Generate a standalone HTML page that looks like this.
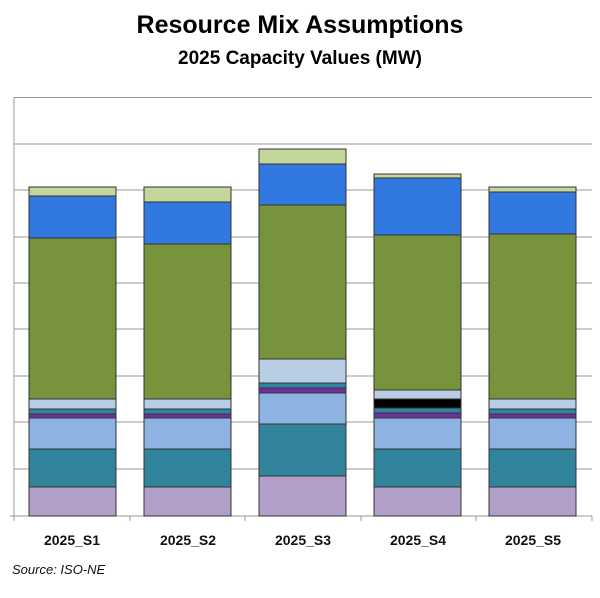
<!DOCTYPE html><html><head><style>body{margin:0;background:#fff}svg{display:block}</style></head><body>
<svg width="600" height="598" xmlns="http://www.w3.org/2000/svg" font-family="Liberation Sans, sans-serif">
<rect width="600" height="598" fill="#fff"/>
<text x="300" y="33" text-anchor="middle" font-size="25" font-weight="bold" transform="scale(1,1)">Resource Mix Assumptions</text>
<text x="300" y="64" text-anchor="middle" font-size="19" font-weight="bold">2025 Capacity Values (MW)</text>
<g stroke="#999" stroke-width="1">
<line x1="14" y1="97.5" x2="592" y2="97.5"/><line x1="14" y1="144" x2="592" y2="144"/><line x1="14" y1="190" x2="592" y2="190"/><line x1="14" y1="237" x2="592" y2="237"/><line x1="14" y1="283" x2="592" y2="283"/><line x1="14" y1="329" x2="592" y2="329"/><line x1="14" y1="376" x2="592" y2="376"/><line x1="14" y1="422" x2="592" y2="422"/><line x1="14" y1="469" x2="592" y2="469"/>
<line x1="14" y1="97" x2="14" y2="521"/><line x1="10" y1="516" x2="592" y2="516"/>
<line x1="130" y1="516" x2="130" y2="521"/><line x1="245" y1="516" x2="245" y2="521"/><line x1="361" y1="516" x2="361" y2="521"/><line x1="476" y1="516" x2="476" y2="521"/><line x1="592" y1="516" x2="592" y2="521"/>
</g>
<g stroke="#333" stroke-width="1">
<!-- S1 -->
<rect x="29" y="487" width="87" height="29" fill="#b19fc9"/><rect x="29" y="449" width="87" height="38" fill="#31849b"/><rect x="29" y="418" width="87" height="31" fill="#8db3e2"/><rect x="29" y="414" width="87" height="4" fill="#7030a0"/><rect x="29" y="409" width="87" height="5" fill="#31849b"/><rect x="29" y="399" width="87" height="10" fill="#b9cde5"/><rect x="29" y="238" width="87" height="161" fill="#77933c"/><rect x="29" y="196" width="87" height="42" fill="#3179e0"/><rect x="29" y="187" width="87" height="9" fill="#c3d69b"/>
<!-- S2 -->
<rect x="144" y="487" width="87" height="29" fill="#b19fc9"/><rect x="144" y="449" width="87" height="38" fill="#31849b"/><rect x="144" y="418" width="87" height="31" fill="#8db3e2"/><rect x="144" y="414" width="87" height="4" fill="#7030a0"/><rect x="144" y="409" width="87" height="5" fill="#31849b"/><rect x="144" y="399" width="87" height="10" fill="#b9cde5"/><rect x="144" y="244" width="87" height="155" fill="#77933c"/><rect x="144" y="202" width="87" height="42" fill="#3179e0"/><rect x="144" y="187" width="87" height="15" fill="#c3d69b"/>
<!-- S3 -->
<rect x="259" y="476" width="87" height="40" fill="#b19fc9"/><rect x="259" y="424" width="87" height="52" fill="#31849b"/><rect x="259" y="393" width="87" height="31" fill="#8db3e2"/><rect x="259" y="388" width="87" height="5" fill="#7030a0"/><rect x="259" y="383" width="87" height="5" fill="#31849b"/><rect x="259" y="359" width="87" height="24" fill="#b9cde5"/><rect x="259" y="205" width="87" height="154" fill="#77933c"/><rect x="259" y="164" width="87" height="41" fill="#3179e0"/><rect x="259" y="149" width="87" height="15" fill="#c3d69b"/>
<!-- S4 -->
<rect x="374" y="487" width="87" height="29" fill="#b19fc9"/><rect x="374" y="449" width="87" height="38" fill="#31849b"/><rect x="374" y="418" width="87" height="31" fill="#8db3e2"/><rect x="374" y="413" width="87" height="5" fill="#7030a0"/><rect x="374" y="408" width="87" height="5" fill="#31849b"/><rect x="374" y="399" width="87" height="9" fill="#000"/><rect x="374" y="390" width="87" height="9" fill="#b9cde5"/><rect x="374" y="235" width="87" height="155" fill="#77933c"/><rect x="374" y="178" width="87" height="57" fill="#3179e0"/><rect x="374" y="174" width="87" height="4" fill="#c3d69b"/>
<!-- S5 -->
<rect x="489" y="487" width="87" height="29" fill="#b19fc9"/><rect x="489" y="449" width="87" height="38" fill="#31849b"/><rect x="489" y="418" width="87" height="31" fill="#8db3e2"/><rect x="489" y="414" width="87" height="4" fill="#7030a0"/><rect x="489" y="409" width="87" height="5" fill="#31849b"/><rect x="489" y="399" width="87" height="10" fill="#b9cde5"/><rect x="489" y="234" width="87" height="165" fill="#77933c"/><rect x="489" y="192" width="87" height="42" fill="#3179e0"/><rect x="489" y="187" width="87" height="5" fill="#c3d69b"/>
</g>
<g font-size="14" font-weight="bold" text-anchor="middle" fill="#111">
<text x="72" y="545">2025_S1</text><text x="188" y="545">2025_S2</text><text x="303" y="545">2025_S3</text><text x="418" y="545">2025_S4</text><text x="533" y="545">2025_S5</text>
</g>
<text x="12" y="574" font-size="13" font-style="italic" fill="#111">Source: ISO-NE</text>
</svg></body></html>
